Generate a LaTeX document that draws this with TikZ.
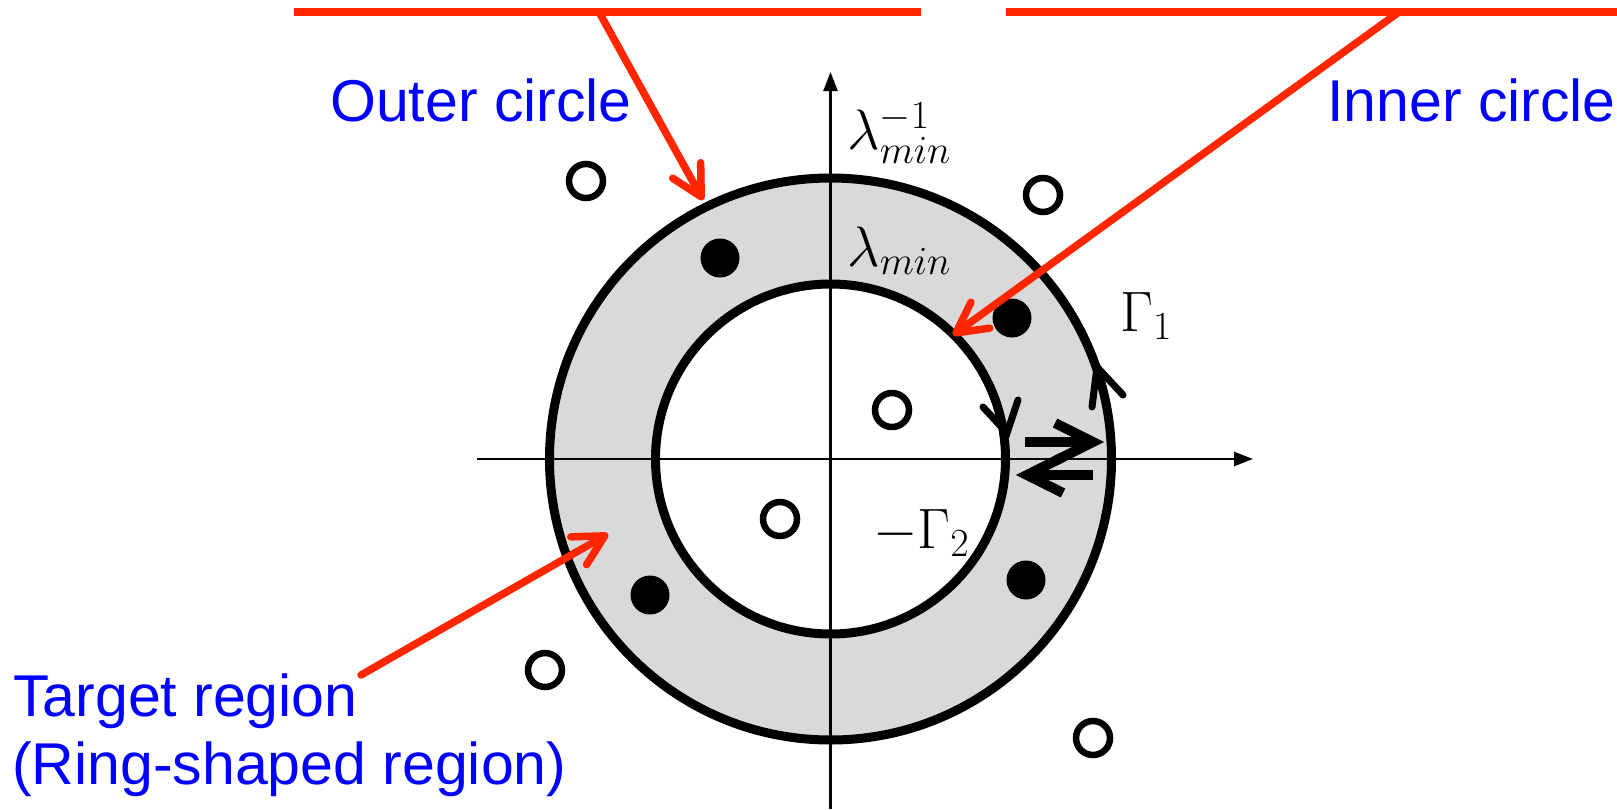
\RequirePackage{fix-cm}
\documentclass[tikz,border=0pt]{standalone}
\usepackage{fontspec}
\newfontfamily\labelfont{Liberation Sans}
\usetikzlibrary{arrows.meta}
\definecolor{ringgray}{RGB}{217,217,217}
\definecolor{callred}{RGB}{255,38,0}
\definecolor{labelblue}{RGB}{0,0,255}
\tikzset{
  bluelabel/.style={text=labelblue, font=\labelfont\fontsize{59}{67}\selectfont, inner sep=0pt, anchor=base west},
  mathlabel/.style={font=\fontsize{57}{63}\selectfont, inner sep=0pt, anchor=base west},
  callout/.style={draw=callred, line width=7.5pt, line cap=round, -{Straight Barb[length=30pt,width=32pt,round]}},
  topbar/.style={draw=callred, line width=8pt},
  bigcircle/.style={draw=black, line width=9pt},
  axisline/.style={draw=black, line width=2.5pt, -{Triangle[length=19pt,width=14pt]}},
  chevron/.style={draw=black, line width=7pt, line cap=round, line join=miter},
  bigarrow/.style={draw=black, line width=10pt, line cap=butt, line join=miter},
  opendot/.style={draw=black, line width=6.5pt, fill=white},
  filldot/.style={fill=black},
}
\begin{document}
\begin{tikzpicture}[x=1pt,y=-1pt]
\useasboundingbox (0,0) rectangle (1617,809);
% centre
\coordinate (O) at (830.5,459);
% ring
\fill[ringgray, even odd rule] (O) circle[radius=281pt] (O) circle[radius=175pt];
\draw[bigcircle] (O) circle[radius=281pt];
\draw[bigcircle] (O) circle[radius=175pt];
% axes
\coordinate (xstart) at (477,459);
\coordinate (xend) at (1253,459);
\coordinate (ystart) at (830.5,809);
\coordinate (yend) at (830.5,72);
\draw[axisline] (xstart) -- (xend);
\draw[axisline] (ystart) -- (yend);
% direction marks on the circles
\draw[chevron] (1092,407) -- (1097,367) -- (1123,395);
\draw[chevron] (983,407) -- (1007,433) -- (1018,400);
% double arrows
\draw[bigarrow] (1025,442) -- (1093,442);
\draw[bigarrow] (1055,423) -- (1093,442) -- (1055,461);
\draw[bigarrow] (1093,475) -- (1027,475);
\draw[bigarrow] (1063,457) -- (1027,475) -- (1063,493);
% filled points
\fill[filldot] (720,258) circle[radius=19.5pt];
\fill[filldot] (1012,318) circle[radius=19.5pt];
\fill[filldot] (650,595) circle[radius=19.5pt];
\fill[filldot] (1026,580) circle[radius=19.5pt];
% open points
\draw[opendot] (586,181) circle[radius=17pt];
\draw[opendot] (1043,195) circle[radius=17pt];
\draw[opendot] (892,410) circle[radius=17pt];
\draw[opendot] (780,519) circle[radius=17pt];
\draw[opendot] (545,670) circle[radius=17pt];
\draw[opendot] (1093,738) circle[radius=17pt];
% math labels
\node[mathlabel] (lminv) at (847,149) {$\lambda_{min}^{-1}$};
\node[mathlabel] (lmin) at (847,266) {$\lambda_{min}$};
\node[mathlabel] (g1) at (1120,331) {$\Gamma_1$};
\node[mathlabel] (g2) at (873,548) {$-\Gamma_2$};
% top bars
\coordinate (barAa) at (294,12);
\coordinate (barAb) at (921,12);
\coordinate (barBa) at (1006,12);
\coordinate (barBb) at (1617,12);
\draw[topbar] (barAa) -- (barAb);
\draw[topbar] (barBa) -- (barBb);
% blue labels
\node[bluelabel] (outerlbl) at (330,121) {Outer circle};
\node[bluelabel] (innerlbl) at (1327,121) {Inner circle};
\node[bluelabel] (target1) at (13,716) {Target region};
\node[bluelabel] (target2) at (12,784) {(Ring-shaped region)};
% callouts
\coordinate (cA) at (599,12);
\coordinate (tA) at (703,200);
\coordinate (cB) at (1399,12);
\coordinate (tB) at (953,335);
\coordinate (cC) at (361,675);
\coordinate (tC) at (608,534);
\draw[callout] (cA) -- (tA);
\draw[callout] (cB) -- (tB);
\draw[callout] (cC) -- (tC);
\end{tikzpicture}
\end{document}
